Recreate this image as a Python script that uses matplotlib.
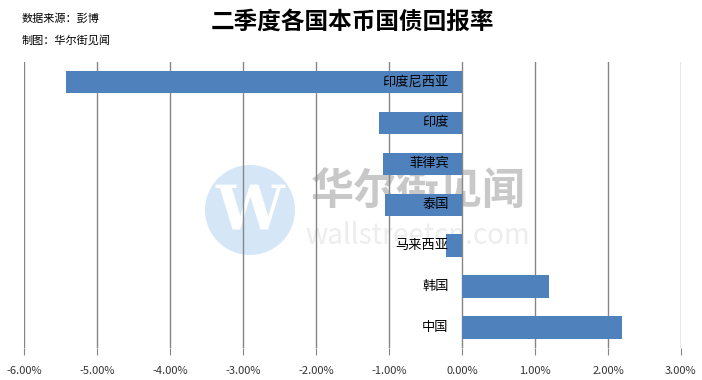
import matplotlib
matplotlib.use("Agg")
import matplotlib.pyplot as plt
from matplotlib.patches import Circle
from matplotlib.ticker import FuncFormatter

plt.rcParams['font.family'] = ['Noto Sans CJK SC', 'DejaVu Sans']

countries = ['印度尼西亚', '印度', '菲律宾', '泰国', '马来西亚', '韩国', '中国']
returns = [-5.42, -1.14, -1.08, -1.05, -0.22, 1.19, 2.19]
xticks = [-6, -5, -4, -3, -2, -1, 0, 1, 2, 3]

bar_color = '#4F81BD'
grid_color = '#868686'

fig = plt.figure(figsize=(7.02, 3.80), dpi=100, facecolor='white')
ax = fig.add_axes([0.034, 0.084, 0.936, 0.754])
ax.set_facecolor('none')
ax.set_zorder(5)

# watermark (logo circle + site name), kept behind the chart
logo = Circle((2.50, 3.80 - 2.10), 0.45, transform=fig.dpi_scale_trans,
              facecolor='#D5E6F7', edgecolor='none', zorder=0)
fig.patches.append(logo)
fig.text(250 / 702, 1 - 212 / 380, 'W', fontsize=44, color='white', ha='center', va='center',
         family=['DejaVu Serif'], fontweight='bold', zorder=1)
fig.text(418 / 702, 1 - 191 / 380, '华尔街见闻', fontsize=31, color='#C8C8C8', ha='center',
         va='center', fontweight='bold', zorder=1)
fig.text(418 / 702, 1 - 236 / 380, 'wallstreetcn.com', fontsize=20, color='#EDEDED',
         ha='center', va='center', zorder=1)

y = list(range(len(countries)))
ax.barh(y, returns, height=0.55, color=bar_color, zorder=3)
ax.set_ylim(len(countries) - 0.5, -0.5)
ax.set_xlim(-6, 3)
ax.set_xticks(xticks)
ax.xaxis.set_major_formatter(FuncFormatter(lambda v, p: f'{v:.2f}%'))
ax.tick_params(axis='x', length=5, color=grid_color, labelsize=8, pad=8, labelcolor='#333333')
ax.set_yticks([])
ax.grid(axis='x', color=grid_color, linewidth=1, zorder=1)
for s in ax.spines.values():
    s.set_visible(False)

for i, name in enumerate(countries):
    ax.annotate(name, xy=(0, i), xytext=(-9.5, 0), textcoords='offset points',
                ha='right', va='center', fontsize=9.5, color='black', zorder=5)

fig.text(352 / 702, 1 - 22 / 380, '二季度各国本币国债回报率', fontsize=17, fontweight='bold',
         ha='center', va='center')
fig.text(22 / 702, 1 - 18 / 380, '数据来源：彭博', fontsize=8, ha='left', va='center')
fig.text(22 / 702, 1 - 40 / 380, '制图：华尔街见闻', fontsize=8, ha='left', va='center')

fig.savefig('out.png', dpi=100, facecolor='white')
